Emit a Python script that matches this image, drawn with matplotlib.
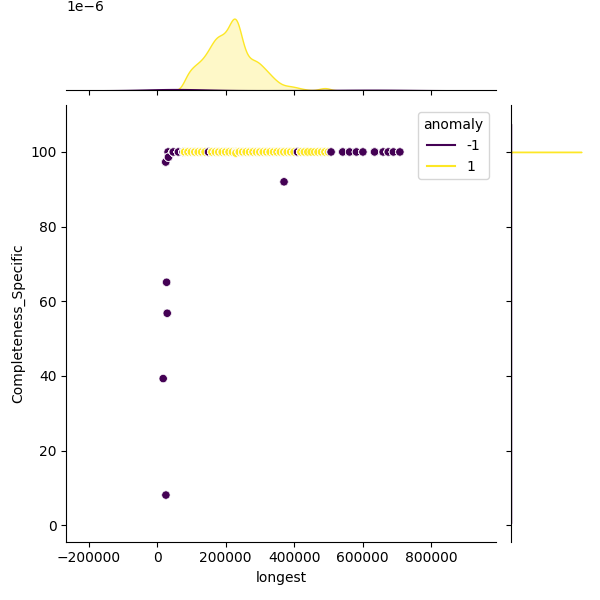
import numpy as np
import pandas as pd
import matplotlib
matplotlib.use('Agg')
import matplotlib.pyplot as plt
from matplotlib.lines import Line2D
import seaborn as sns

ROW = 100.0

# anomaly = 1 : every record sits on the 100 row, longest -> how many records
normal_x = [80000, 90000, 100000, 110000, 120000, 130000, 140000, 150000, 160000, 170000,
            180000, 190000, 200000, 210000, 220000, 230000, 240000, 250000, 260000, 270000,
            280000, 290000, 300000, 310000, 320000, 330000, 340000, 350000, 360000, 370000,
            380000, 390000, 400000, 410000, 420000, 430000, 440000, 450000, 460000, 470000,
            480000, 490000, 500000]
normal_n = [98, 176, 208, 234, 260, 280, 325, 377, 436, 501,
            520, 514, 533, 585, 702, 728, 624, 429, 325, 293,
            286, 280, 260, 215, 189, 150, 117, 85, 59, 46,
            42, 39, 33, 26, 16, 10, 5, 1, 1, 7,
            20, 26, 23]
# a few normal records just under 100
normal_low_x = [230000]
normal_low_y = [99.7]
normal_low_n = [20]

# anomaly = -1 on the 100 row
anom_row_x = [32000, 47000, 62000, 76000, 150000, 410000, 508000, 542000, 562000, 582000,
              601000, 635000, 660000, 675000, 690000, 709000]
anom_row_n = [60, 50, 45, 40, 25, 12, 10, 12, 12, 12,
              12, 14, 14, 14, 14, 14]
# anomaly = -1 off the row
anom_x = [25000, 33000, 370600, 27600, 29400, 17600, 25600]
anom_y = [97.3, 98.6, 92.0, 65.1, 56.8, 39.3, 8.1]
anom_n = [10, 5, 3, 2, 2, 1, 2]

longest = np.concatenate([np.repeat(normal_x, normal_n),
                          np.repeat(normal_low_x, normal_low_n),
                          np.repeat(anom_row_x, anom_row_n),
                          np.repeat(anom_x, anom_n)])
compl = np.concatenate([np.repeat(ROW, sum(normal_n)),
                        np.repeat(normal_low_y, normal_low_n),
                        np.repeat(ROW, sum(anom_row_n)),
                        np.repeat(anom_y, anom_n)])
label = np.concatenate([np.repeat(1, sum(normal_n) + sum(normal_low_n)),
                        np.repeat(-1, sum(anom_row_n) + sum(anom_n))])

df = pd.DataFrame({'longest': longest, 'Completeness_Specific': compl, 'anomaly': label})
df = df.sort_values('longest', kind='stable').reset_index(drop=True)

g = sns.JointGrid(data=df, x='longest', y='Completeness_Specific', hue='anomaly',
                  palette='viridis', height=6)
g.plot_joint(sns.scatterplot, legend=False)
g.plot_marginals(sns.kdeplot, fill=True, legend=False, warn_singular=False)

g.ax_joint.set_xlim(-265000, 990000)
g.ax_joint.set_ylim(-4.4, 112.5)

cmap = plt.get_cmap('viridis')
handles = [Line2D([], [], color=cmap(0.0), lw=1.5), Line2D([], [], color=cmap(1.0), lw=1.5)]
g.ax_joint.legend(handles=handles, labels=['-1', '1'], title='anomaly', loc='upper right')

g.figure.savefig('out.png', dpi=100)
